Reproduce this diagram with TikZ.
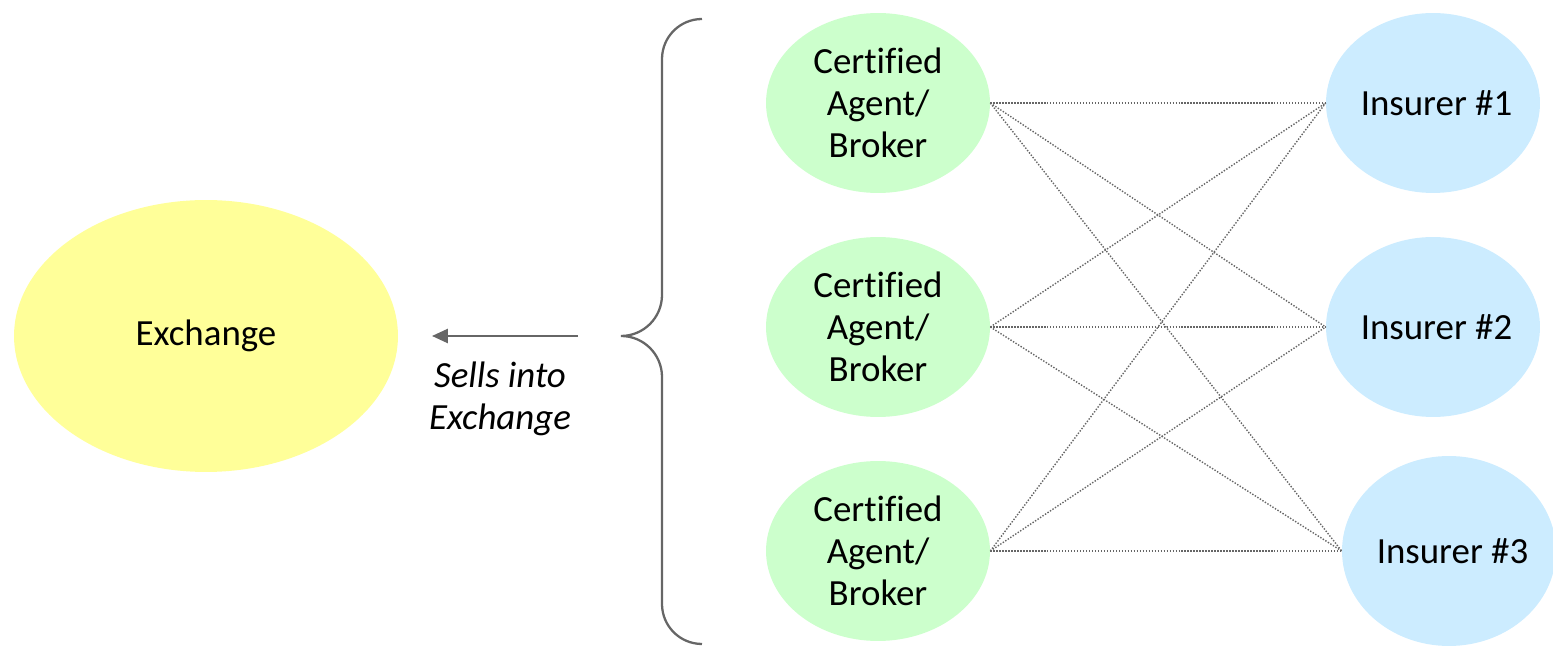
\documentclass[tikz,border=0pt]{standalone}
\usepackage{fontspec}
\setmainfont{Carlito}[Ligatures=NoCommon]
\usetikzlibrary{shapes.geometric,arrows.meta}

\definecolor{exyellow}{HTML}{FFFF99}
\definecolor{agentgreen}{HTML}{CCFFCC}
\definecolor{insblue}{HTML}{CCECFF}
\definecolor{linegray}{HTML}{666666}

% insurer caption, set slightly right of the ellipse centre
\newcommand{\inslabel}[1]{\makebox[0pt]{\hspace*{4pt}#1}}

\tikzset{
  blob/.style={ellipse, inner sep=0pt, align=center,
    font=\fontsize{21}{23.9}\selectfont},
  exch/.style={blob, fill=exyellow, minimum width=7.68cm, minimum height=5.44cm},
  agent/.style={blob, fill=agentgreen, minimum width=4.48cm, minimum height=3.6cm},
  insurer/.style={blob, fill=insblue, minimum width=4.28cm, minimum height=3.6cm},
  link/.style={linegray, line width=0.8pt, dash pattern=on 0.8pt off 0.9pt},
  bracket/.style={linegray, line width=1.3pt},
  sellarrow/.style={linegray, line width=1.2pt, -{Triangle[length=9pt,width=8pt]}}
}

\begin{document}
\begin{tikzpicture}[x=0.02cm, y=0.02cm]
  \useasboundingbox (0,0) rectangle (1553,646);

  % the exchange
  \node[exch] (ex) at (206,310) {Exchange};

  % certified agents / brokers
  \node[agent] (a1) at (878,543) {Certified\\Agent/\\Broker};
  \node[agent] (a2) at (878,319) {Certified\\Agent/\\Broker};
  \node[agent] (a3) at (878,95)  {Certified\\Agent/\\Broker};

  % insurers
  \node[insurer] (i1) at (1433,543) {\inslabel{Insurer \#1}};
  \node[insurer] (i2) at (1433,319) {\inslabel{Insurer \#2}};
  \node[insurer, minimum height=3.8cm] (i3) at (1449,95) {\inslabel{Insurer \#3}};

  % every agent can place business with every insurer
  \foreach \a in {a1,a2,a3}
    \foreach \i in {i1,i2,i3}
      \draw[link] (\a.east) -- (\i.west);

  % brace grouping the agents
  \draw[bracket] (702,627) arc[start angle=90, end angle=180, radius=0.8cm]
    -- (662,351) arc[start angle=0, end angle=-90, radius=0.82cm]
    coordinate (tip)
    arc[start angle=90, end angle=0, radius=0.82cm]
    -- (662,42) arc[start angle=180, end angle=270, radius=0.8cm];

  % arrow into the exchange
  \coordinate (from) at (578,310);
  \coordinate (to) at (432,310);
  \draw[sellarrow] (from) -- (to);
  \node[align=center, font=\fontsize{21}{23.9}\selectfont\itshape] (lbl)
    at (500,247) {Sells into\\Exchange};
\end{tikzpicture}
\end{document}
